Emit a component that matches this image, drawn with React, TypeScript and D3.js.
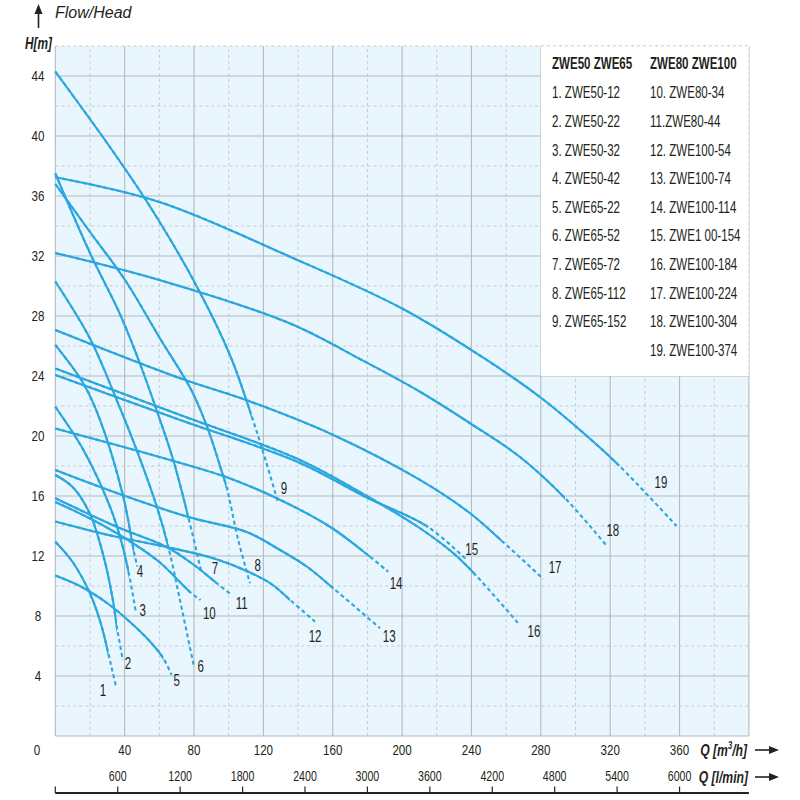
import React from "react";
import * as d3 from "d3";

type Pt = [number, number]; // [Q m3/h, H m]

// axis ticks
const qTicks = [40, 80, 120, 160, 200, 240, 280, 320, 360];
const hTicks = [4, 8, 12, 16, 20, 24, 28, 32, 36, 40, 44];
const lminTicks = [600, 1200, 1800, 2400, 3000, 3600, 4200, 4800, 5400, 6000];

// legend
const legendHeaders = ["ZWE50 ZWE65", "ZWE80 ZWE100"];
const legendLeft = [
  "1. ZWE50-12",
  "2. ZWE50-22",
  "3. ZWE50-32",
  "4. ZWE50-42",
  "5. ZWE65-22",
  "6. ZWE65-52",
  "7. ZWE65-72",
  "8. ZWE65-112",
  "9. ZWE65-152",
];
const legendRight = [
  "10. ZWE80-34",
  "11.ZWE80-44",
  "12. ZWE100-54",
  "13. ZWE100-74",
  "14. ZWE100-114",
  "15. ZWE1 00-154",
  "16. ZWE100-184",
  "17. ZWE100-224",
  "18. ZWE100-304",
  "19. ZWE100-374",
];

// pump curves: solid (working range) part, then dashed tail
const curveNames = [
  "1", "2", "3", "4", "5", "6", "7", "8", "9", "10",
  "11", "12", "13", "14", "15", "16", "17", "18", "19",
];

const solidParts: Pt[][] = [
  [[0, 12.95], [10, 11.6], [20, 9.5], [26, 7.6], [30.6, 5.5]],
  [[0, 17.4], [10, 16.6], [20, 14.8], [28, 11.9], [33, 9.2], [35.6, 7.2]],
  [[0, 21.95], [16.2, 19.07], [31.5, 15.3], [38, 13], [42.5, 10.8]],
  [[0, 26.07], [16.2, 23.5], [25.8, 21.07], [39.2, 15.95], [45.5, 12.2]],
  [[0, 10.7], [15, 9.95], [30.6, 8.8], [45, 7.4], [54.6, 6.3], [62.3, 5.18]],
  [[0, 30.3], [20, 26.5], [35.4, 22.4], [46.9, 19.07], [58.5, 15.3], [65.2, 12.6]],
  [[0, 37.5], [20, 32.2], [37.5, 28.07], [48.9, 24.8], [58.5, 21.7], [68, 18.4], [76.7, 14.6]],
  [[0, 36.8], [20, 33.6], [40.2, 30.4], [60.4, 26.5], [78.7, 23.0], [88.2, 20.4], [96.9, 17.3], [98.8, 16.6]],
  [[0, 44.3], [32.5, 39.1], [54.6, 35.3], [79.6, 30.4], [100.7, 25.4], [113.3, 21.3]],
  [[0, 15.6], [20, 14.5], [40, 13.2], [60, 11.6], [77.7, 9.6]],
  [[0, 15.85], [35.4, 13.95], [64.2, 12.6], [80, 11.4], [93, 10.2]],
  [[0, 14.3], [30.6, 13.4], [64.2, 12.6], [91.1, 11.85], [110.4, 11.0], [125, 10.1], [135.4, 9.07]],
  [[0, 17.73], [35.4, 16.2], [76.7, 14.6], [110.4, 13.6], [129.6, 12.4], [145, 11.3], [160.3, 9.85]],
  [[0, 20.5], [66.2, 18.4], [100, 17.2], [127.7, 15.85], [158.4, 13.95], [181.5, 11.95]],
  [[0, 24.07], [72, 21.07], [139.2, 18.3], [179.6, 15.9], [214.8, 13.95]],
  [[0, 24.5], [72, 21.4], [139.2, 18.5], [179.6, 16.0], [210.3, 13.85], [229.6, 12.18], [242, 10.78]],
  [[0, 27.07], [72, 23.85], [110, 22.4], [160.3, 20.07], [210.3, 17.07], [239.2, 14.85], [257.4, 13.02]],
  [[0, 32.2], [60, 30.4], [135.4, 27.5], [176.7, 25.07], [210.3, 22.95], [239.2, 20.85], [268, 18.6], [294, 15.85]],
  [[0, 37.25], [60, 35.6], [135.4, 31.95], [200, 28.5], [248.8, 25.07], [279.5, 22.6], [302.6, 20.4], [324.8, 18.07]],
];

const dashedParts: Pt[][] = [
  [[33, 4.3], [35, 3.3]],
  [[37.3, 6.1], [38.9, 5.07]],
  [[46.5, 8.2]],
  [[47.3, 11.3]],
  [[67.1, 4.07]],
  [[72, 9], [80, 4.6]],
  [[84.4, 10.85]],
  [[105.5, 13.07], [112.3, 10.18]],
  [[121.5, 18.3], [128.6, 15.5]],
  [[83.8, 9.07]],
  [[101.7, 9.4]],
  [[149.8, 7.62]],
  [[187.3, 7.18]],
  [[192, 10.95]],
  [[237.3, 11.73]],
  [[267, 7.51]],
  [[281.4, 10.47]],
  [[317.6, 12.73]],
  [[358.3, 14.0]],
];

// where each curve number is written
const labelSpots: Pt[] = [
  [27.5, 3.07], [41.9, 4.85], [50.4, 8.4], [48.8, 10.95], [70, 3.7],
  [83.9, 4.67], [92.1, 11.18], [116.7, 11.36], [131.9, 16.5], [88.8, 8.18],
  [107.5, 8.84], [149.8, 6.62], [192.6, 6.62], [196.5, 10.18], [240.1, 12.45],
  [276, 6.95], [288.2, 11.22], [321.5, 13.7], [349.3, 16.9],
];

const blue = "#2aa7df";
const textColor = "#231f20";
const sans = "'Liberation Sans', Arial, sans-serif";

// horizontally squeezed text, to mimic the condensed face of the original
const CText = ({
  x,
  y,
  sx = 0.78,
  anchor = "start",
  size = 14,
  weight = "normal",
  italic = false,
  children,
}: {
  x: number;
  y: number;
  sx?: number;
  anchor?: string;
  size?: number;
  weight?: string;
  italic?: boolean;
  children: React.ReactNode;
}) => (
  <text
    transform={`translate(${x},${y}) scale(${sx},1)`}
    textAnchor={anchor}
    dominantBaseline="central"
    fontFamily={sans}
    fontSize={size}
    fontWeight={weight}
    fontStyle={italic ? "italic" : "normal"}
    fill={textColor}
  >
    {children}
  </text>
);

const App = () => {
  const x = d3.scaleLinear().domain([0, 400]).range([55.3, 748.9]);
  const y = d3.scaleLinear().domain([0, 46]).range([736, 46]);
  const line = d3
    .line<Pt>()
    .x((d) => x(d[0]))
    .y((d) => y(d[1]))
    .curve(d3.curveCatmullRom.alpha(0.5));

  const vGrid = d3.range(0, 401, 20);
  const hGrid = d3.range(0, 47, 2);
  const lminToQ = (v: number) => (v * 60) / 1000;

  return (
    <svg
      width={800}
      height={800}
      viewBox="0 0 800 800"
      style={{ position: "absolute", left: 0, top: 0, background: "#fff" }}
    >
      <defs>
        {solidParts.map((pts, i) => (
          <clipPath key={"cp" + i} id={"solid-clip-" + i}>
            <rect x={0} y={0} width={x(pts[pts.length - 1][0])} height={800} />
          </clipPath>
        ))}
      </defs>

      {/* plot background */}
      <rect x={x(0)} y={y(46)} width={x(400) - x(0)} height={y(0) - y(46)} fill="#eaf6fd" />

      {/* grid */}
      {vGrid.map((v) => (
        <line
          key={"v" + v}
          x1={x(v)}
          x2={x(v)}
          y1={y(0)}
          y2={y(46)}
          stroke={v % 40 === 0 ? "#b3bac1" : "#bfc6cd"}
          strokeWidth={v % 40 === 0 ? 1.1 : 0.9}
          strokeDasharray={v % 40 === 0 ? undefined : "3,3"}
        />
      ))}
      {hGrid.map((v) => (
        <line
          key={"h" + v}
          x1={x(0)}
          x2={x(400)}
          y1={y(v)}
          y2={y(v)}
          stroke={v % 4 === 0 ? "#b3bac1" : "#bfc6cd"}
          strokeWidth={v % 4 === 0 ? 1.1 : 0.9}
          strokeDasharray={v % 4 === 0 ? undefined : "3,3"}
        />
      ))}

      {/* legend box */}
      <rect x={x(280)} y={y(46)} width={x(400) - x(280)} height={y(24) - y(46)} fill="#fff" />
      <path
        d={`M${x(280)},${y(46)}H${x(400)}V${y(24)}`}
        fill="none"
        stroke="#cfd5db"
        strokeWidth={0.9}
        strokeDasharray="3,3"
      />

      {/* curves: whole curve dashed, solid part drawn over it */}
      {solidParts.map((pts, i) => {
        const d = line([...pts, ...dashedParts[i]]) || "";
        return (
          <g key={"c" + i}>
            <path d={d} fill="none" stroke={blue} strokeWidth={2.1} strokeDasharray="4,3" />
            <path d={d} fill="none" stroke={blue} strokeWidth={2.1} clipPath={`url(#solid-clip-${i})`} />
          </g>
        );
      })}

      {/* curve numbers */}
      {curveNames.map((n, i) => (
        <CText key={"n" + n} x={x(labelSpots[i][0])} y={y(labelSpots[i][1])} anchor="middle" size={16} sx={0.72}>
          {n}
        </CText>
      ))}

      {/* legend text */}
      <CText x={552} y={63} size={16.5} sx={0.7} weight="bold">
        {legendHeaders[0]}
      </CText>
      <CText x={650} y={63} size={16.5} sx={0.7} weight="bold">
        {legendHeaders[1]}
      </CText>
      {legendLeft.map((t, i) => (
        <CText key={t} x={552} y={92.7 + i * 28.6} size={16.5} sx={0.7}>
          {t}
        </CText>
      ))}
      {legendRight.map((t, i) => (
        <CText key={t} x={650} y={92.7 + i * 28.6} size={16.5} sx={0.7}>
          {t}
        </CText>
      ))}

      {/* axis numbers */}
      {hTicks.map((t) => (
        <CText key={"yt" + t} x={38} y={y(t)} anchor="middle" size={14.5} sx={0.8}>
          {t}
        </CText>
      ))}
      <CText x={37} y={750} anchor="middle" size={14.5} sx={0.8}>
        0
      </CText>
      {qTicks.map((t) => (
        <CText key={"xt" + t} x={x(t)} y={750} anchor="middle" size={14.5} sx={0.8}>
          {t}
        </CText>
      ))}
      {lminTicks.map((t) => (
        <CText key={"lt" + t} x={x(lminToQ(t))} y={776.5} anchor="middle" size={14} sx={0.76}>
          {t}
        </CText>
      ))}

      {/* l/min scale bar */}
      <line x1={x(0)} x2={x(400)} y1={793} y2={793} stroke="#222" strokeWidth={2} />
      {[0, ...lminTicks].map((t) => (
        <line
          key={"lk" + t}
          x1={x(lminToQ(t))}
          x2={x(lminToQ(t))}
          y1={786.5}
          y2={793}
          stroke="#222"
          strokeWidth={1.2}
        />
      ))}

      {/* axis titles */}
      <CText x={747} y={750} anchor="end" size={16} sx={0.76} weight="bold" italic>
        Q [m<tspan dy={-4} fontSize={10}>3</tspan>
        <tspan dy={4}>/h]</tspan>
      </CText>
      <CText x={748} y={777} anchor="end" size={16} sx={0.76} weight="bold" italic>
        Q [l/min]
      </CText>
      <CText x={25} y={43} size={16} sx={0.74} weight="bold" italic>
        H[m]
      </CText>
      {[750, 777].map((yy) => (
        <g key={"ar" + yy}>
          <line x1={755} x2={771} y1={yy} y2={yy} stroke="#222" strokeWidth={1.6} />
          <path d={`M779,${yy}L769,${yy - 4}L769,${yy + 4}Z`} fill="#222" />
        </g>
      ))}

      {/* top arrow and title */}
      <line x1={38.5} x2={38.5} y1={28} y2={12} stroke="#222" strokeWidth={1.6} />
      <path d="M38.5,4L34.5,14L42.5,14Z" fill="#222" />
      <text
        x={55}
        y={12.5}
        dominantBaseline="central"
        fontFamily={sans}
        fontStyle="italic"
        fontSize={16}
        fill={textColor}
      >
        Flow/Head
      </text>
    </svg>
  );
};

export default App;
